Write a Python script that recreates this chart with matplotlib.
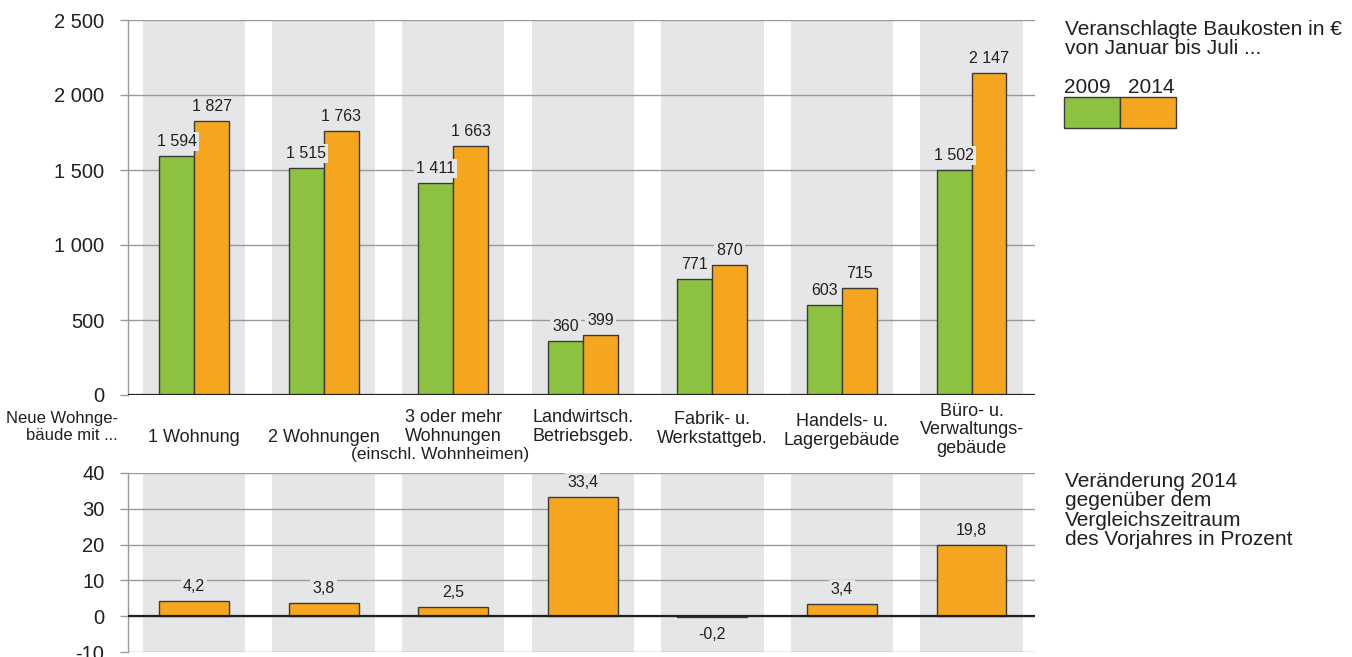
import numpy as np
import matplotlib
matplotlib.use('Agg')
import matplotlib.pyplot as plt
from matplotlib.patches import Rectangle
from matplotlib.transforms import blended_transform_factory

plt.rcParams['font.family'] = ['Liberation Sans', 'DejaVu Sans']

# Daten
kategorien = ['1 Wohnung', '2 Wohnungen', '3 oder mehr\nWohnungen', 'Landwirtsch.\nBetriebsgeb.',
              'Fabrik- u.\nWerkstattgeb.', 'Handels- u.\nLagergebäude', 'Büro- u.\nVerwaltungs-\ngebäude']
werte_2009 = [1594, 1515, 1411, 360, 771, 603, 1502]
werte_2014 = [1827, 1763, 1663, 399, 870, 715, 2147]
veraenderung = [4.2, 3.8, 2.5, 33.4, -0.2, 3.4, 19.8]
yticks_oben = [0, 500, 1000, 1500, 2000, 2500]
yticks_unten = [-10, 0, 10, 20, 30, 40]

GRUEN = '#8cc23f'
ORANGE = '#f6a51e'
BAND = '#e5e6e8'
GRID = '#9a9a9a'
TXT = '#231f20'

W, H = 1352, 657
fig = plt.figure(figsize=(W / 100, H / 100), dpi=100)

def px_axes(l, r, t, b):
    return fig.add_axes([l / W, 1 - b / H, (r - l) / W, (b - t) / H])

ax1 = px_axes(128, 1035, 20, 395)
ax2 = px_axes(128, 1035, 473, 652)

x = np.arange(len(kategorien))

def fmt(v):
    return '{:,}'.format(v).replace(',', ' ')

def grundstil(ax, ylim, ticks, labels):
    ax.set_xlim(-0.51, 6.49)
    ax.set_ylim(*ylim)
    for xi in x:
        ax.axvspan(xi - 0.395, xi + 0.395, color=BAND, lw=0, zorder=0)
    ax.set_yticks(ticks)
    ax.set_yticklabels(labels, fontsize=14.5, color=TXT)
    ax.set_xticks([])
    ax.tick_params(axis='y', length=6, width=1, color=GRID, pad=11)
    for t in ticks:
        ax.axhline(t, color=GRID, lw=1, zorder=1)
    for s in ['top', 'right', 'bottom']:
        ax.spines[s].set_visible(False)
    ax.spines['left'].set_color(GRID)
    ax.spines['left'].set_linewidth(1)
    ax.axhline(0, color=TXT, lw=1.6, zorder=4)

# oben
grundstil(ax1, (0, 2500), yticks_oben, [fmt(v) for v in yticks_oben])
bw = 0.27
ax1.bar(x - bw / 2, werte_2009, bw, color=GRUEN, edgecolor='#3a3a3a', lw=1, zorder=3)
ax1.bar(x + bw / 2, werte_2014, bw, color=ORANGE, edgecolor='#3a3a3a', lw=1, zorder=3)
box = dict(facecolor=BAND, edgecolor='none', pad=1.5)
for xi, a, b in zip(x, werte_2009, werte_2014):
    ax1.annotate(fmt(a), (xi - bw / 2, a), xytext=(0, 5), textcoords='offset points',
                 ha='center', va='bottom', fontsize=11.5, color=TXT, bbox=box, zorder=5)
    ax1.annotate(fmt(b), (xi + bw / 2, b), xytext=(0, 5), textcoords='offset points',
                 ha='center', va='bottom', fontsize=11.5, color=TXT, bbox=box, zorder=5)

# Kategorienbeschriftung
tr = blended_transform_factory(ax1.transData, ax1.transAxes)
def ay(py):
    return (395 - py) / 375
label_y = [437, 437, 427, 427, 429, 431, 430]
for xi, lab, py in zip(x, kategorien, label_y):
    ax1.text(xi, ay(py), lab, transform=tr, ha='center', va='center', fontsize=13,
             color=TXT, linespacing=1.08)
ax1.text(1.9, ay(455), '(einschl. Wohnheimen)', transform=tr, ha='center', va='center',
         fontsize=12.5, color=TXT)
fig.text(118 / W, 1 - 427 / H, 'Neue Wohnge-\nbäude mit ...', ha='right', va='center',
         fontsize=12, color=TXT, linespacing=1.12)

# unten
grundstil(ax2, (-10, 40), yticks_unten, [str(v) for v in yticks_unten])
ax2.bar(x, veraenderung, 0.54, color=ORANGE, edgecolor='#3a3a3a', lw=1, zorder=3)
for xi, v in zip(x, veraenderung):
    s = ('%.1f' % v).replace('.', ',')
    if v >= 0:
        ax2.annotate(s, (xi, v), xytext=(0, 5), textcoords='offset points', ha='center',
                     va='bottom', fontsize=11.5, color=TXT, bbox=box, zorder=5)
    else:
        ax2.annotate(s, (xi, v), xytext=(0, -7), textcoords='offset points', ha='center',
                     va='top', fontsize=11.5, color=TXT, bbox=box, zorder=5)

# Legende
fig.text(1065 / W, 1 - 20 / H, 'Veranschlagte Baukosten in €\nvon Januar bis Juli ...',
         ha='left', va='top', fontsize=15, color=TXT, linespacing=1.02)
fig.text(1064 / W, 1 - 93 / H, '2009', ha='left', va='baseline', fontsize=15, color=TXT)
fig.text(1128 / W, 1 - 93 / H, '2014', ha='left', va='baseline', fontsize=15, color=TXT)
for x0, c in [(1064, GRUEN), (1120, ORANGE)]:
    fig.patches.append(Rectangle((x0 / W, 1 - 128 / H), 56 / W, 31 / H, transform=fig.transFigure,
                                 facecolor=c, edgecolor='#3a3a3a', lw=1))
fig.text(1065 / W, 1 - 472 / H,
         'Veränderung 2014\ngegenüber dem\nVergleichszeitraum\ndes Vorjahres in Prozent',
         ha='left', va='top', fontsize=15, color=TXT, linespacing=1.02)

fig.savefig('out.png', dpi=100)
